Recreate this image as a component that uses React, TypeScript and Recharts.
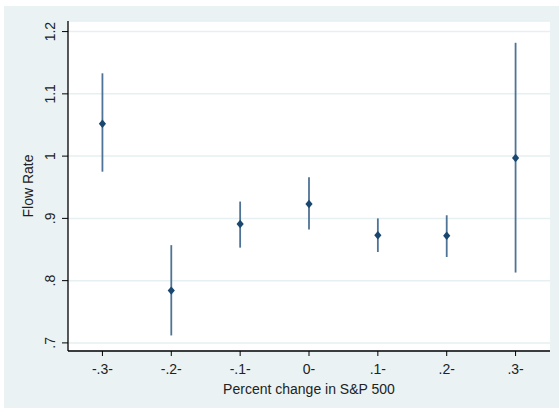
import { ScatterChart, Scatter, XAxis, YAxis, CartesianGrid, ErrorBar, Label } from "recharts";

const cats = [-0.3, -0.2, -0.1, 0, 0.1, 0.2, 0.3];
const xLabels = ["-.3-", "-.2-", "-.1-", "0-", ".1-", ".2-", ".3-"];
const flowRate = [1.052, 0.784, 0.891, 0.923, 0.873, 0.872, 0.997];
const ciLow = [0.975, 0.712, 0.853, 0.882, 0.846, 0.838, 0.813];
const ciHigh = [1.133, 0.857, 0.927, 0.966, 0.9, 0.905, 1.182];
const yTicks = [0.7, 0.8, 0.9, 1, 1.1, 1.2];
const yLabels = [".7", ".8", ".9", "1", "1.1", "1.2"];

const data = cats.map((c, i) => ({
  x: c,
  y: flowRate[i],
  err: [flowRate[i] - ciLow[i], ciHigh[i] - flowRate[i]],
}));

const FONT = "'Liberation Sans', Arial, sans-serif";
const NAVY = "#1a476f";

const xLabel = (v: number) => xLabels[cats.findIndex((c) => Math.abs(c - v) < 1e-6)] ?? "";
const yLabel = (v: number) => yLabels[yTicks.findIndex((t) => Math.abs(t - v) < 1e-6)] ?? "";

function YTick(props: any) {
  const { x, y, payload } = props;
  return (
    <text x={x} y={y} transform={`rotate(-90, ${x}, ${y})`} textAnchor="middle" fontSize={14} fontFamily={FONT} fill="#222">
      {yLabel(payload.value)}
    </text>
  );
}

function Diamond(props: any) {
  const { cx, cy } = props;
  return <polygon points={`${cx},${cy - 4.2} ${cx + 3.6},${cy} ${cx},${cy + 4.2} ${cx - 3.6},${cy}`} fill={NAVY} />;
}

export default function App() {
  return (
    <div style={{ position: "absolute", left: 0, top: 0, width: 559, height: 408, background: "#fff" }}>
      <div style={{ position: "absolute", left: 4, top: 6, width: 555, height: 402, background: "#eaf2f3" }} />
      <div style={{ position: "absolute", left: 0, top: 0 }}>
        <ScatterChart width={559} height={408} margin={{ top: 21, right: 9, bottom: 0, left: 0 }}>
          <CartesianGrid vertical={false} fill="#fff" stroke="#e6eff2" strokeWidth={1.5} />
          <XAxis
            type="number"
            dataKey="x"
            domain={[-0.35, 0.35]}
            ticks={cats}
            tickFormatter={xLabel}
            height={57}
            tickSize={5}
            tickMargin={8}
            stroke="#000"
            tick={{ fontSize: 14, fontFamily: FONT, fill: "#222" }}
            axisLine={{ stroke: "#000", strokeWidth: 1.3 }}
            tickLine={{ stroke: "#000" }}
          >
            <Label
              content={(p: any) => {
                const vb = p.viewBox;
                return (
                  <text x={vb.x + vb.width / 2} y={vb.y + 42.5} textAnchor="middle" fontSize={14} fontFamily={FONT} fill="#222">
                    Percent change in S&amp;P 500
                  </text>
                );
              }}
            />
          </XAxis>
          <YAxis
            type="number"
            dataKey="y"
            domain={[0.687, 1.217]}
            ticks={yTicks}
            width={68}
            tickSize={6}
            tickMargin={7}
            tick={<YTick />}
            axisLine={{ stroke: "#000", strokeWidth: 1.3 }}
            tickLine={{ stroke: "#000" }}
          >
            <Label
              content={(p: any) => {
                const vb = p.viewBox;
                const cy = vb.y + vb.height / 2;
                return (
                  <text x={33} y={cy} transform={`rotate(-90, 33, ${cy})`} textAnchor="middle" fontSize={14} fontFamily={FONT} fill="#222">
                    Flow Rate
                  </text>
                );
              }}
            />
          </YAxis>
          <Scatter data={data} shape={<Diamond />} isAnimationActive={false}>
            <ErrorBar dataKey="err" direction="y" width={0} stroke="#4f7396" strokeWidth={1.8} />
          </Scatter>
        </ScatterChart>
      </div>
    </div>
  );
}
